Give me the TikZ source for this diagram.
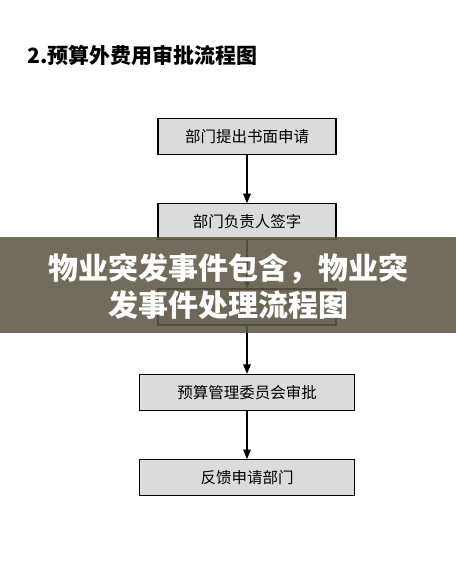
\documentclass[tikz,border=0pt]{standalone}
\usepackage{fontspec}
\setmainfont{Noto Sans CJK SC}
\usetikzlibrary{arrows, positioning}
\definecolor{bannerbg}{RGB}{96,87,70}
\tikzstyle{box}=[draw, line width=1.3pt, fill=black!14, minimum width=178pt, minimum height=36pt, font=\fontsize{15.5}{18}\selectfont]
\tikzstyle{widebox}=[box, minimum width=215pt]
\tikzstyle{arr} = [line width=1.2pt, -triangle 45]

\begin{document}
\begin{tikzpicture}[x=1pt, y=-1pt, node distance=48pt]
    \useasboundingbox (0,0) rectangle (456,572);
    \node [anchor=west, font=\bfseries\fontsize{21}{24}\selectfont](title) at (24,55) {2.预算外费用审批流程图};

    \node [box](apply) at (247,136.5) {部门提出书面申请};
    \node [box, below=of apply](sign) {部门负责人签字};
    \node [box, below=of sign](review) {};
    \node [widebox, below=of review](approve) {预算管理委员会审批};
    \node [widebox, below=of approve](feedback) {反馈申请部门};

    \path (apply) edge[arr] (sign);
    \path (sign) edge[arr] (review);
    \path (review) edge[arr] (approve);
    \path (approve) edge[arr] (feedback);

    \fill [bannerbg, opacity=0.88] (0,237) rectangle (456,333);
    \node [text=white, align=center, font=\bfseries\fontsize{30}{37}\selectfont](banner) at (228,286.5) {物业突发事件包含，物业突\\发事件处理流程图};
\end{tikzpicture}
\end{document}
